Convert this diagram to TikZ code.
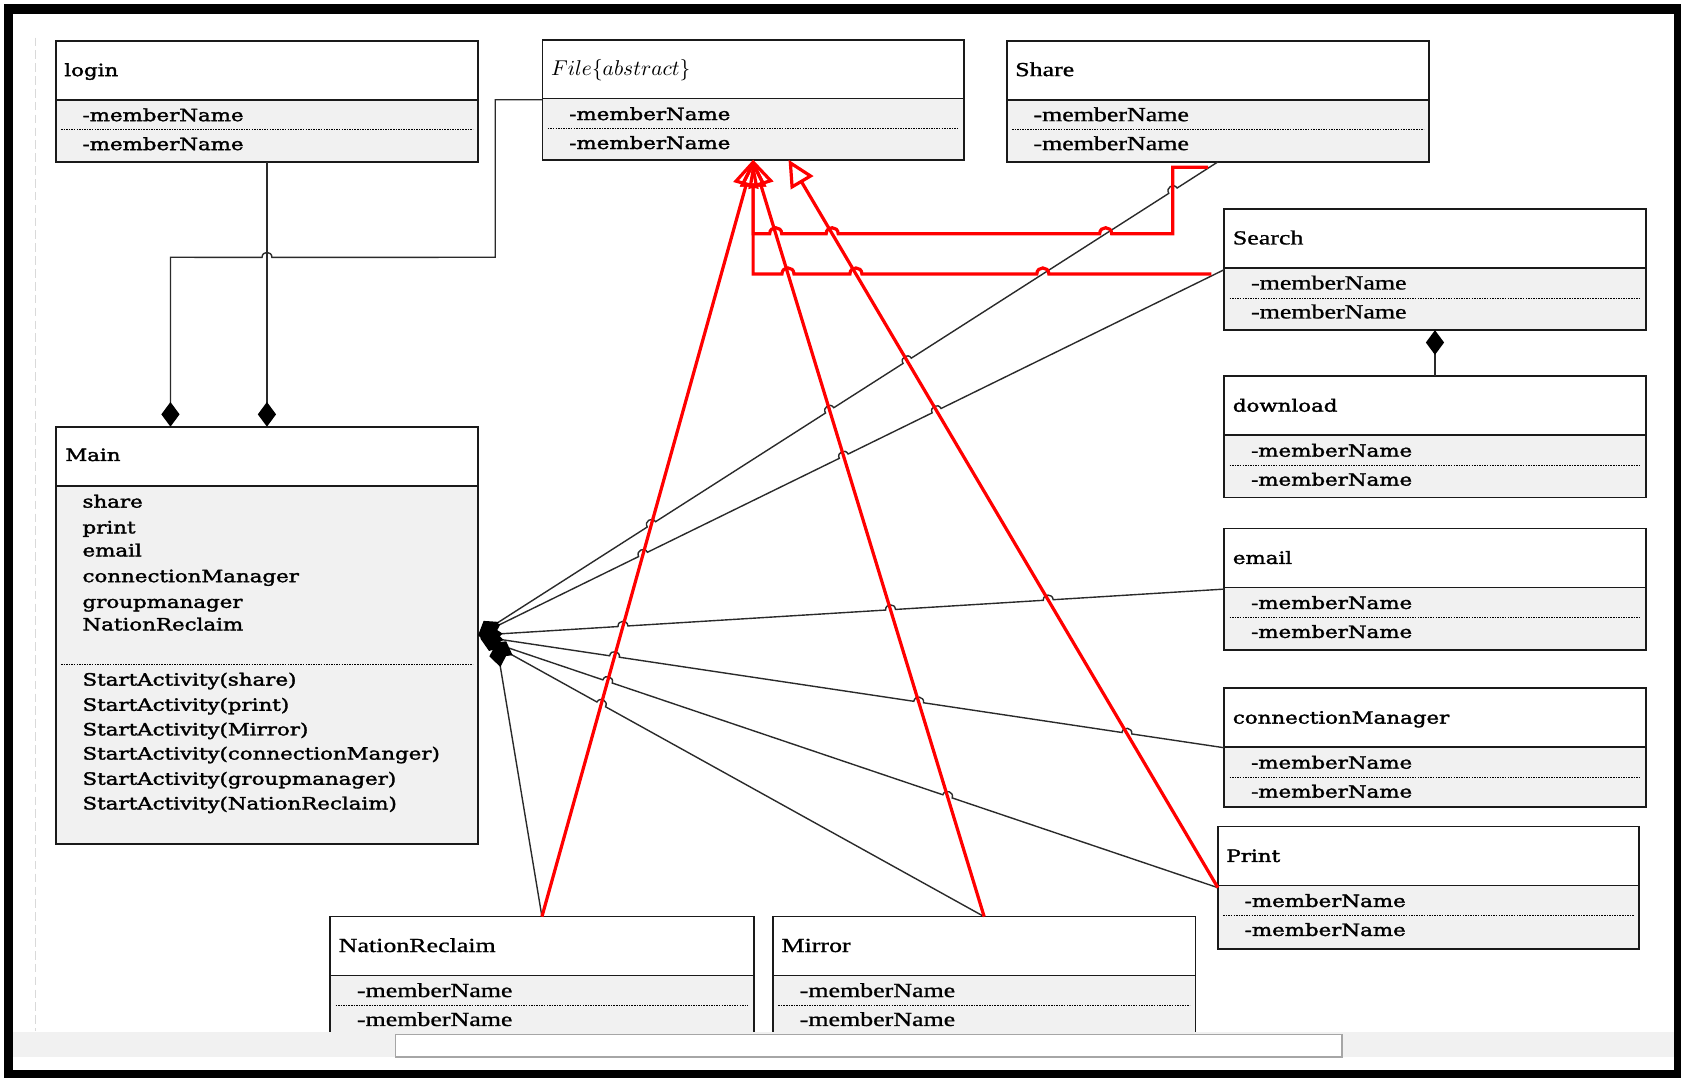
\documentclass[tikz,border=0pt]{standalone}
\usepackage{fontspec}
\usetikzlibrary{arrows.meta,calc,fit}

\newfontfamily\heavyserif[FakeStretch=1.26,FakeBold=2]{DejaVu Serif}
\newfontfamily\lightserif[FakeStretch=1.3,FakeBold=1]{Liberation Serif}
\newcommand\heavyfnt{\heavyserif\fontsize{7.9}{9}\selectfont}
\newcommand\lightfnt{\lightserif\fontsize{9.3}{11}\selectfont}

\definecolor{compfill}{HTML}{F1F1F1}
\definecolor{edge}{HTML}{1A1A1A}
\definecolor{wire}{HTML}{2A2A2A}

\tikzset{
  boxline/.style={draw=edge, line width=0.8pt},
  sepline/.style={draw=black, line width=0.45pt, dash pattern=on 0.7pt off 0.5pt},
  lbl/.style={anchor=base west, inner sep=0pt, outer sep=0pt},
  assoc/.style={draw=wire, line width=0.65pt, -{Diamond[length=11.5pt,width=8.5pt,black]}},
  inherit/.style={draw=red, line width=1.5pt, -{Triangle[open,length=12.5pt,width=12pt]}},
  hopto/.style={bend right=90, looseness=1.7},
  hopx/.style n args={4}{insert path={-- ($(#1)!#4!(#2)$) to[hopto] ($(#1)!#4!(#3)$)}},
}

% class box: name, left, top, right, bottom, title font, title, member font
\newcommand\umlclass[8]{%
  \node[fit={(#2,#3) (#4,#5)}, inner sep=0pt, outer sep=0pt] (#1) {};
  \fill[compfill] (#2,#3+55) rectangle (#4,#5);
  \draw[sepline] (#2+5,#3+83) -- (#4-5,#3+83);
  \draw[boxline] (#2,#3+55) -- (#4,#3+55);
  \draw[boxline] (#1.north west) rectangle (#1.south east);
  \node[lbl, font=#6] at (#2+8,#3+33) {#7};
  \node[lbl, font=#8] at (#2+25,#3+75) {-memberName};
  \node[lbl, font=#8] at (#2+25,#3+102) {-memberName};
}

\begin{document}
\begin{tikzpicture}[x=0.5pt,y=-0.5pt]
\clip (0,0) rectangle (1568,1005);
\fill[white] (0,0) rectangle (1568,1005);
\draw[black!15, line width=0.7pt, dash pattern=on 4pt off 2pt] (33,35) -- (33,962);

% classes
\umlclass{login}{52}{38}{446}{151}{\heavyfnt}{login}{\heavyfnt}
\umlclass{file}{506}{37}{899}{149}{\fontsize{10}{12}\selectfont}{$File\{abstract\}$}{\heavyfnt}
\umlclass{share}{939}{38}{1333}{151}{\lightfnt}{Share}{\lightfnt}
\umlclass{search}{1142}{195}{1535}{308}{\lightfnt}{Search}{\lightfnt}
\umlclass{download}{1142}{351}{1535}{464}{\heavyfnt}{download}{\heavyfnt}
\umlclass{email}{1142}{493}{1535}{606}{\heavyfnt}{email}{\heavyfnt}
\umlclass{cm}{1142}{642}{1535}{753}{\heavyfnt}{connectionManager}{\heavyfnt}
\umlclass{print}{1136}{771}{1529}{885}{\heavyfnt}{Print}{\heavyfnt}
\umlclass{nr}{308}{855}{703}{968}{\lightfnt}{NationReclaim}{\lightfnt}
\umlclass{mirror}{721}{855}{1115}{968}{\lightfnt}{Mirror}{\lightfnt}

% Main class
\node[fit={(52,398) (446,787)}, inner sep=0pt, outer sep=0pt] (main) {};
\fill[compfill] (52,453) rectangle (446,787);
\draw[sepline] (57,620) -- (441,620);
\draw[boxline] (52,453) -- (446,453);
\draw[boxline] (main.north west) rectangle (main.south east);
\node[lbl, font=\heavyfnt] at (61,430) {Main};
\foreach \t/\y in {share/473.5, print/497.5, email/519, connectionManager/543, groupmanager/567, NationReclaim/588}
  \node[lbl, font=\heavyfnt] at (77,\y) {\t};
\foreach \t/\y in {share/639.5, print/663, Mirror/686, connectionManger/708.5, groupmanager/732, NationReclaim/755}
  \node[lbl, font=\heavyfnt] at (77,\y) {StartActivity(\t)};

% connector end points
\coordinate (b1s) at (share.south);
\coordinate (mE) at (main.east);
\coordinate (b2s) at (search.west);
\coordinate (b3s) at (email.west);
\coordinate (b4s) at (cm.west);
\coordinate (b5s) at (print.west);
\coordinate (b6s) at (mirror.north);
\coordinate (b7s) at (nr.north);
\coordinate (b4e) at ($(main.east)+(1,1)$);
\coordinate (b5e) at ($(main.east)+(2,3)$);
\coordinate (b6e) at ($(main.east)+(12,7.5)$);
\coordinate (b7e) at ($(main.east)+(17,7)$);
\coordinate (fS) at (file.south);
\coordinate (r3e) at ($(file.south)+(33,0)$);
\coordinate (r4a) at ($(share.south)+(-9,5)$);
\coordinate (r4b) at ($(share.south)+(-42,5)$);
\coordinate (r4c) at ($(share.south)+(-42,67)$);
\coordinate (r4d) at (fS |- r4c);
\coordinate (r5a) at ($(search.west)+(-12,4)$);
\coordinate (r5d) at (fS |- r5a);
\coordinate (lm) at (login.south |- main.north);
\coordinate (f1) at ($(file.west)+(-44,0)$);
\coordinate (f2) at ($(file.west)+(-44,147)$);
\coordinate (f3) at (159,240);

% crossings
\coordinate (xv) at (intersection of r4b--r4c and b1s--mE);
\coordinate (a1) at (intersection of r4c--r4d and b1s--mE);
\coordinate (a2) at (intersection of r4c--r4d and b5s--r3e);
\coordinate (a3) at (intersection of r4c--r4d and b6s--fS);
\coordinate (c1) at (intersection of r5a--r5d and b1s--mE);
\coordinate (c2) at (intersection of r5a--r5d and b5s--r3e);
\coordinate (c3) at (intersection of r5a--r5d and b6s--fS);
\coordinate (p13) at (intersection of b1s--mE and b5s--r3e);
\coordinate (p12) at (intersection of b1s--mE and b6s--fS);
\coordinate (p11) at (intersection of b1s--mE and b7s--fS);
\coordinate (p23) at (intersection of b2s--mE and b5s--r3e);
\coordinate (p22) at (intersection of b2s--mE and b6s--fS);
\coordinate (p21) at (intersection of b2s--mE and b7s--fS);
\coordinate (p33) at (intersection of b3s--mE and b5s--r3e);
\coordinate (p32) at (intersection of b3s--mE and b6s--fS);
\coordinate (p31) at (intersection of b3s--mE and b7s--fS);
\coordinate (p43) at (intersection of b4s--b4e and b5s--r3e);
\coordinate (p42) at (intersection of b4s--b4e and b6s--fS);
\coordinate (p41) at (intersection of b4s--b4e and b7s--fS);
\coordinate (p52) at (intersection of b5s--b5e and b6s--fS);
\coordinate (p51) at (intersection of b5s--b5e and b7s--fS);
\coordinate (p61) at (intersection of b6s--b6e and b7s--fS);
\coordinate (h9) at (intersection of f2--f3 and login.south--lm);

% compositions into Main
\draw[assoc] (login.south) -- (lm);
\draw[assoc] (file.west) -- (f1) -- (f2) [hopx={h9}{f2}{f3}{2.3pt}] -- (f3) -- (f3 |- main.north);
\draw[assoc] (download.north) -- (search.south);
\draw[assoc] (b1s) [hopx={xv}{b1s}{mE}{2.3pt}] [hopx={p13}{b1s}{mE}{2.3pt}]
  [hopx={p12}{b1s}{mE}{2.3pt}] [hopx={p11}{b1s}{mE}{2.3pt}] -- (mE);
\draw[assoc] (b2s) [hopx={p23}{b2s}{mE}{2.3pt}] [hopx={p22}{b2s}{mE}{2.3pt}]
  [hopx={p21}{b2s}{mE}{2.3pt}] -- (mE);
\draw[assoc] (b3s) [hopx={p33}{b3s}{mE}{2.3pt}] [hopx={p32}{b3s}{mE}{2.3pt}]
  [hopx={p31}{b3s}{mE}{2.3pt}] -- (mE);
\draw[assoc] (b4s) [hopx={p43}{b4s}{b4e}{2.3pt}] [hopx={p42}{b4s}{b4e}{2.3pt}]
  [hopx={p41}{b4s}{b4e}{2.3pt}] -- (b4e);
\draw[assoc] (b5s) [hopx={p52}{b5s}{b5e}{2.3pt}] [hopx={p51}{b5s}{b5e}{2.3pt}] -- (b5e);
\draw[assoc] (b6s) [hopx={p61}{b6s}{b6e}{2.3pt}] -- (b6e);
\draw[assoc] (b7s) -- (b7e);

% generalisations to File
\draw[inherit] (b7s) -- (fS);
\draw[inherit] (b6s) -- (fS);
\draw[inherit] (b5s) -- (r3e);
\draw[inherit] (r4a) -- (r4b) -- (r4c) [hopx={a1}{r4c}{r4d}{2.8pt}] [hopx={a2}{r4c}{r4d}{2.8pt}]
  [hopx={a3}{r4c}{r4d}{2.8pt}] -- (r4d) -- (fS);
\draw[inherit] (r5a) [hopx={c1}{r5a}{r5d}{2.8pt}] [hopx={c2}{r5a}{r5d}{2.8pt}]
  [hopx={c3}{r5a}{r5d}{2.8pt}] -- (r5d) -- (fS);

% window strip and frame
\fill[compfill] (11.7,963) rectangle (1562,986);
\fill[white] (11.7,986) rectangle (1562,998);
\draw[draw=black!35, line width=0.8pt, fill=white] (369,965) rectangle (1252,986);
\draw[black, line width=4.2pt] (7.5,8.4) rectangle (1566,1002);
\end{tikzpicture}
\end{document}
